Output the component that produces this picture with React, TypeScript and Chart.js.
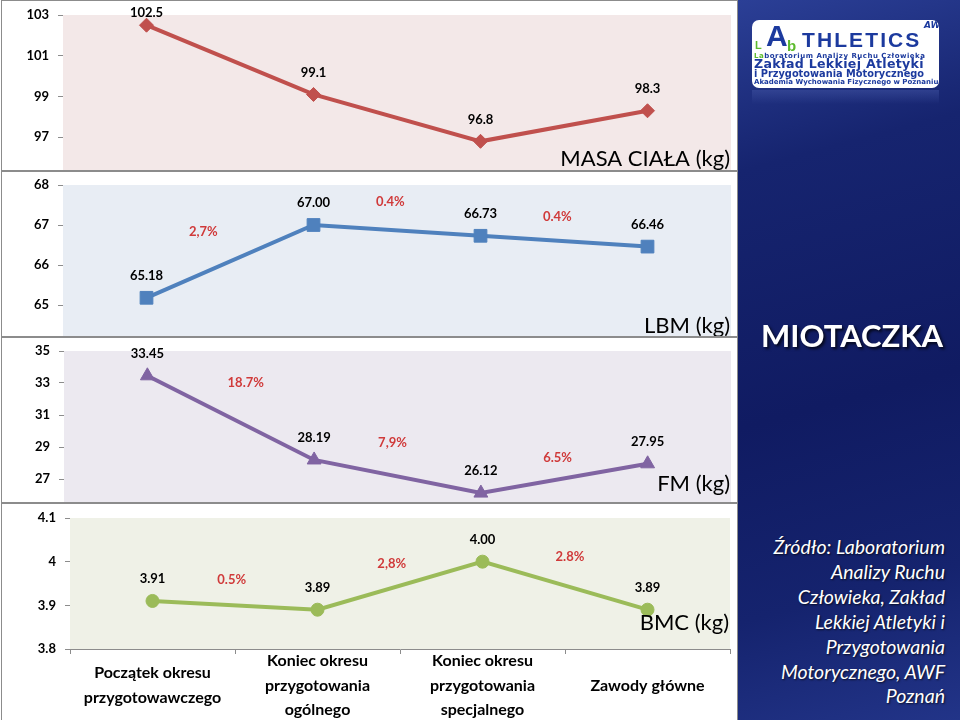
import React, { useEffect, useRef } from "react";
import { Chart, registerables } from "chart.js";

Chart.register(...registerables);

const FONT = "Lato, 'Open Sans', sans-serif";

// ---------- data ----------
const categories: (string | string[])[] = [
  ["Początek okresu", "przygotowawczego"],
  ["Koniec okresu", "przygotowania", "ogólnego"],
  ["Koniec okresu", "przygotowania", "specjalnego"],
  "Zawody główne",
];

const masaValues = [102.5, 99.1, 96.8, 98.3];
const lbmValues = [65.18, 67.0, 66.73, 66.46];
const fmValues = [33.45, 28.19, 26.12, 27.95];
const bmcValues = [3.91, 3.89, 4.0, 3.89];

const masaTicks = [95, 103, 2];
const lbmTicks = [64, 68, 1];
const fmTicks = [25, 35, 2];
const bmcTicks = [3.8, 4.1, 0.1];

// percentage-change annotations (position in category index / value units)
const lbmChangeLabels = ["2,7%", "0.4%", "0.4%"];
const lbmChangeX = [0.34, 1.46, 2.46];
const lbmChangeY = [66.83, 67.58, 67.21];

const fmChangeLabels = ["18.7%", "7,9%", "6.5%"];
const fmChangeX = [0.59, 1.47, 2.46];
const fmChangeY = [33.02, 29.25, 28.31];

const bmcChangeLabels = ["0.5%", "2,8%", "2.8%"];
const bmcChangeX = [0.48, 1.45, 2.53];
const bmcChangeY = [3.959, 3.995, 4.011];

const sourceLines = [
  "Źródło: Laboratorium",
  "Analizy Ruchu",
  "Człowieka, Zakład",
  "Lekkiej Atletyki i",
  "Przygotowania",
  "Motorycznego, AWF",
  "Poznań",
];

// ---------- panel configs ----------
type PanelCfg = {
  top: number;
  height: number;
  canvasHeight: number;
  padTop: number;
  padRight: number;
  axisWidth: number;
  showX: boolean;
  values: number[];
  ticks: number[];
  decimals: number;
  color: string;
  bg: string;
  pointStyle: string;
  radius: number;
  title: string;
  titleBaseline: number;
  changeLabels: string[];
  changeX: number[];
  changeY: number[];
};

const panels: PanelCfg[] = [
  {
    top: 0, height: 171, canvasHeight: 178, padTop: 15, padRight: 7, axisWidth: 63, showX: false,
    values: masaValues, ticks: masaTicks, decimals: 1, color: "#C0504D", bg: "#F3E8E8",
    pointStyle: "rectRot", radius: 7, title: "MASA CIAŁA (kg)", titleBaseline: 166,
    changeLabels: [], changeX: [], changeY: [],
  },
  {
    top: 171, height: 166, canvasHeight: 174, padTop: 14, padRight: 7, axisWidth: 63, showX: false,
    values: lbmValues, ticks: lbmTicks, decimals: 2, color: "#4F81BD", bg: "#E8EDF4",
    pointStyle: "rect", radius: 9, title: "LBM (kg)", titleBaseline: 162,
    changeLabels: lbmChangeLabels, changeX: lbmChangeX, changeY: lbmChangeY,
  },
  {
    top: 337, height: 166, canvasHeight: 174, padTop: 14, padRight: 7, axisWidth: 64, showX: false,
    values: fmValues, ticks: fmTicks, decimals: 2, color: "#8064A2", bg: "#ECE9F0",
    pointStyle: "triangle", radius: 8, title: "FM (kg)", titleBaseline: 154,
    changeLabels: fmChangeLabels, changeX: fmChangeX, changeY: fmChangeY,
  },
  {
    top: 503, height: 217, canvasHeight: 217, padTop: 15, padRight: 8, axisWidth: 70, showX: true,
    values: bmcValues, ticks: bmcTicks, decimals: 2, color: "#9BBB59", bg: "#EFF1E7",
    pointStyle: "circle", radius: 6.5, title: "BMC (kg)", titleBaseline: 127,
    changeLabels: bmcChangeLabels, changeX: bmcChangeX, changeY: bmcChangeY,
  },
];

function makePlugin(cfg: PanelCfg) {
  return {
    id: "panelDecor",
    beforeDatasetsDraw(chart: any) {
      const { ctx, chartArea } = chart;
      ctx.save();
      ctx.fillStyle = cfg.bg;
      ctx.fillRect(chartArea.left, chartArea.top, chartArea.right - chartArea.left, chartArea.bottom - chartArea.top);
      ctx.restore();
    },
    afterDatasetsDraw(chart: any) {
      const { ctx, chartArea } = chart;
      const xs = chart.scales.x;
      const ys = chart.scales.y;
      ctx.save();
      // title
      ctx.font = `22px ${FONT}`;
      ctx.fillStyle = "#000";
      ctx.textAlign = "right";
      ctx.textBaseline = "alphabetic";
      ctx.fillText(cfg.title, chartArea.right - 1, cfg.titleBaseline);
      // value labels
      const meta = chart.getDatasetMeta(0);
      ctx.font = `bold 13px ${FONT}`;
      ctx.textAlign = "center";
      ctx.textBaseline = "middle";
      meta.data.forEach((pt: any, i: number) => {
        const y = Math.max(pt.y - 22, chartArea.top - 2);
        ctx.fillText(cfg.values[i].toFixed(cfg.decimals), pt.x, y);
      });
      // change labels
      ctx.fillStyle = "#D03A3A";
      ctx.font = `bold 13px ${FONT}`;
      cfg.changeLabels.forEach((t, i) => {
        const xi = cfg.changeX[i];
        const lo = Math.floor(xi);
        const hi = Math.min(lo + 1, cfg.values.length - 1);
        const p0 = xs.getPixelForValue(lo);
        const p1 = xs.getPixelForValue(hi);
        const x = p0 + (p1 - p0) * (xi - lo);
        const y = ys.getPixelForValue(cfg.changeY[i]);
        ctx.fillText(t, x, y);
      });
      ctx.restore();
    },
  };
}

function LinePanel({ cfg }: { cfg: PanelCfg }) {
  const ref = useRef<HTMLCanvasElement>(null);
  useEffect(() => {
    const chart = new Chart(ref.current as HTMLCanvasElement, {
      type: "line",
      data: {
        labels: categories as any,
        datasets: [
          {
            data: cfg.values,
            borderColor: cfg.color,
            backgroundColor: cfg.color,
            borderWidth: 4,
            pointStyle: cfg.pointStyle as any,
            pointRadius: cfg.radius,
            pointBackgroundColor: cfg.color,
            pointBorderColor: cfg.color,
            pointBorderWidth: 1,
            tension: 0,
            clip: false as any,
          },
        ],
      },
      options: {
        animation: false,
        responsive: false,
        maintainAspectRatio: false,
        events: [],
        layout: { autoPadding: false, padding: { top: cfg.padTop, right: cfg.padRight, left: 0, bottom: 0 } } as any,
        plugins: { legend: { display: false }, tooltip: { enabled: false } },
        scales: {
          x: {
            type: "category",
            offset: true,
            display: cfg.showX,
            grid: { display: true, offset: true, drawOnChartArea: false, drawTicks: true, tickLength: 5, color: "#8C8C8C" },
            border: { display: true, color: "#8C8C8C" },
            ticks: {
              display: cfg.showX,
              font: { family: FONT, size: 16, weight: "bold", lineHeight: 1.53 },
              color: "#000",
              maxRotation: 0,
              autoSkip: false,
              crossAlign: "center",
              padding: 7,
            },
            afterFit: (s: any) => {
              s.height = cfg.showX ? 71 : 0;
            },
          } as any,
          y: {
            min: cfg.ticks[0],
            max: cfg.ticks[1],
            ticks: {
              stepSize: cfg.ticks[2],
              autoSkip: false,
              font: { family: FONT, size: 13, weight: "bold" },
              color: "#000",
              padding: 9,
              callback: (v: any) => String(Math.round(Number(v) * 10) / 10),
            },
            grid: { drawOnChartArea: false, drawTicks: true, tickLength: 5, color: "#8C8C8C" },
            border: { display: true, color: "#8C8C8C" },
            afterFit: (s: any) => {
              s.width = cfg.axisWidth;
              s.paddingTop = 0;
              s.paddingBottom = 0;
            },
          } as any,
        },
      },
      plugins: [makePlugin(cfg)],
    });
    return () => chart.destroy();
  }, []);
  return (
    <div style={{ position: "absolute", left: 0, top: cfg.top, width: 738, height: cfg.height, overflow: "hidden" }}>
      <canvas ref={ref} width={738} height={cfg.canvasHeight} style={{ display: "block", width: 738, height: cfg.canvasHeight }} />
      <div
        style={{
          position: "absolute", left: 1, top: 0, width: 737, height: cfg.height + (cfg.showX ? 2 : 0),
          border: "1px solid #8C8C8C", boxSizing: "border-box", pointerEvents: "none",
        }}
      />
    </div>
  );
}

function Logo() {
  const blue = "#1C3A9E";
  const green = "#5DBB2E";
  const arial = "'Liberation Sans', Arial, sans-serif";
  const small = { position: "absolute" as const, left: 2, fontWeight: "bold" as const, whiteSpace: "nowrap" as const, lineHeight: 1 };
  return (
    <div
      style={{
        position: "absolute", left: 752, top: 20, width: 187, height: 68, background: "#fff",
        borderRadius: 7, overflow: "hidden", fontFamily: "'DejaVu Sans', sans-serif", color: blue,
      }}
    >
      <div style={{ position: "absolute", left: 3, top: 20, fontSize: 11, lineHeight: 1, fontWeight: "bold", color: green, fontFamily: arial }}>L</div>
      <div style={{ position: "absolute", left: 14, top: 1, fontSize: 30, lineHeight: 1, fontWeight: "bold", fontFamily: arial }}>A</div>
      <div style={{ position: "absolute", left: 35, top: 18, fontSize: 15, lineHeight: 1, fontWeight: "bold", color: green, fontFamily: arial }}>b</div>
      <div style={{ position: "absolute", left: 50, top: 9, fontSize: 21, lineHeight: 1, fontWeight: "bold", letterSpacing: 2.1, fontFamily: arial }}>THLETICS</div>
      <div style={{ position: "absolute", left: 172, top: 1, fontSize: 9, lineHeight: 1, fontStyle: "italic", fontWeight: "bold" }}>AW</div>
      <div style={{ ...small, top: 33, fontSize: 7, letterSpacing: 0.5 }}>
        <span style={{ color: green }}>La</span>boratorium Analizy Ruchu Człowieka
      </div>
      <div style={{ ...small, top: 38, fontSize: 12.6, letterSpacing: 0.3 }}>Zakład Lekkiej Atletyki</div>
      <div style={{ ...small, top: 49, fontSize: 9.8 }}>i Przygotowania Motorycznego</div>
      <div style={{ ...small, top: 59, fontSize: 7 }}>Akademia Wychowania Fizycznego w Poznaniu</div>
    </div>
  );
}

export default function App() {
  return (
    <div style={{ position: "fixed", left: 0, top: 0, width: 960, height: 720, background: "#fff", overflow: "hidden", fontFamily: FONT }}>
      {panels.map((p, i) => (
        <LinePanel key={i} cfg={p} />
      ))}
      <div
        style={{
          position: "absolute", left: 738, top: 0, width: 222, height: 720,
          background: "linear-gradient(165deg, #2B3F96 0%, #16246F 22%, #101B62 55%, #15236E 80%, #223488 100%)",
        }}
      >
        <div
          style={{
            position: "absolute", left: 14, top: 90, width: 187, height: 14,
            background: "linear-gradient(#3D4F9E, rgba(30,45,120,0))", opacity: 0.6,
          }}
        />
      </div>
      <Logo />
      <div
        style={{
          position: "absolute", left: 741, top: 314, width: 222, textAlign: "center", color: "#fff",
          fontSize: 31, fontWeight: "bold", fontFamily: FONT, textShadow: "2px 2px 3px rgba(0,0,0,0.75)",
          lineHeight: "42px",
        }}
      >
        MIOTACZKA
      </div>
      <div
        style={{
          position: "absolute", right: 15, top: 535, textAlign: "right", color: "#fff", fontStyle: "italic",
          fontSize: 19.5, lineHeight: "24.9px", fontFamily: FONT, textShadow: "1px 1px 2px rgba(0,0,0,0.7)",
          whiteSpace: "nowrap",
        }}
      >
        {sourceLines.map((l, i) => (
          <div key={i}>{l}</div>
        ))}
      </div>
    </div>
  );
}
